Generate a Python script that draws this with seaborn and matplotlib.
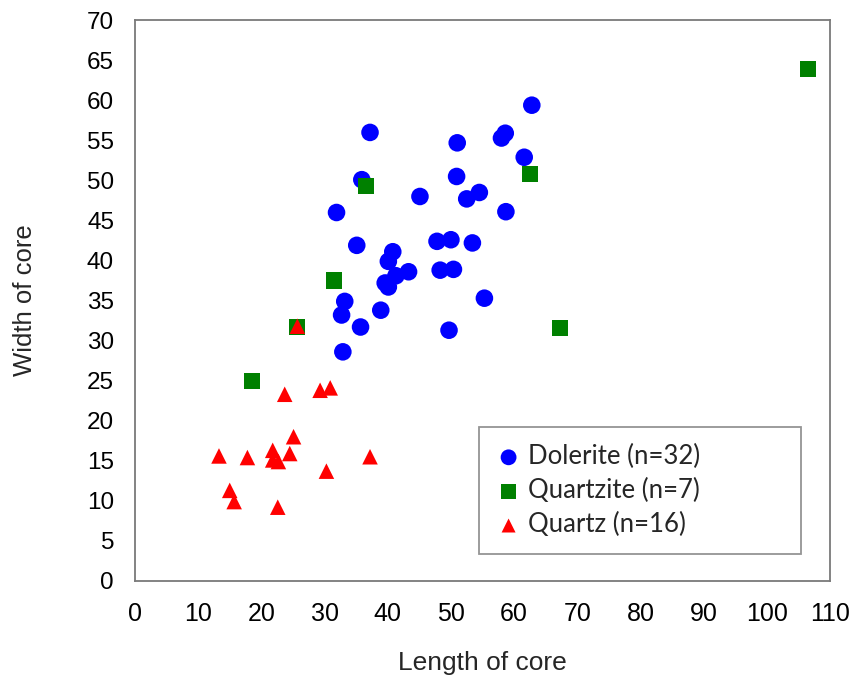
import matplotlib
matplotlib.use("Agg")
import matplotlib.pyplot as plt
import seaborn as sns
import pandas as pd

# ------------------- DATOS ------------------- #

dolerite_len = [62.8, 37.2, 51.0, 58.6, 58.0, 61.6, 35.9, 50.9, 45.1, 54.5, 52.5,
                31.9, 58.7, 35.1, 47.8, 50.0, 53.4, 40.8, 40.1, 48.3, 50.4, 43.3,
                41.3, 39.6, 40.1, 55.3, 33.2, 32.7, 38.9, 35.7, 49.7, 32.9]
dolerite_wid = [59.4, 56.0, 54.7, 55.9, 55.3, 52.9, 50.1, 50.5, 48.0, 48.5, 47.7,
                46.0, 46.1, 41.9, 42.4, 42.6, 42.2, 41.1, 39.9, 38.8, 38.9, 38.6,
                38.1, 37.2, 36.7, 35.3, 34.9, 33.2, 33.8, 31.7, 31.3, 28.6]

quartzite_len = [36.6, 62.5, 31.5, 25.7, 67.3, 106.5, 18.5]
quartzite_wid = [49.3, 50.8, 37.5, 31.7, 31.6, 63.9, 25.0]

quartz_len = [25.7, 23.7, 29.3, 30.9, 25.1, 13.3, 17.8, 21.8, 21.8, 22.7, 24.5,
              37.2, 30.3, 15.0, 15.7, 22.6]
quartz_wid = [31.8, 23.3, 23.8, 24.1, 18.0, 15.6, 15.4, 16.3, 15.1, 14.9, 15.9,
              15.5, 13.7, 11.3, 9.9, 9.2]

groups = ["Dolerite (n=32)", "Quartzite (n=7)", "Quartz (n=16)"]

df = pd.concat([
    pd.DataFrame({"Length": dolerite_len, "Width": dolerite_wid, "Type": groups[0]}),
    pd.DataFrame({"Length": quartzite_len, "Width": quartzite_wid, "Type": groups[1]}),
    pd.DataFrame({"Length": quartz_len, "Width": quartz_wid, "Type": groups[2]}),
])

# ------------------- ESTILO ------------------- #

sns.set_style("white")
plt.rcParams["font.family"] = ["Liberation Sans", "DejaVu Sans"]

estilos = {
    groups[0]: dict(color="#0000FF", marker="o", s=160),
    groups[1]: dict(color="#008000", marker="s", s=135),
    groups[2]: dict(color="#FF0000", marker="^", s=125),
}

# ------------------- GRÁFICA ------------------- #

fig = plt.figure(figsize=(8.54, 6.77), dpi=100)
ax = fig.add_axes([0.158, 0.142, 0.814, 0.828])

for g in groups:
    sub = df[df["Type"] == g]
    sns.scatterplot(data=sub, x="Length", y="Width", ax=ax, label=g,
                    linewidth=0, edgecolor="none", **estilos[g])

ax.set_xlim(0, 110)
ax.set_ylim(0, 70)
ax.set_xticks(range(0, 111, 10))
ax.set_yticks(range(0, 71, 5))

for sp in ax.spines.values():
    sp.set_color("#7a7a7a")
    sp.set_linewidth(1.3)

ax.tick_params(axis="both", direction="out", length=9, width=1.1,
               color="#7a7a7a", labelcolor="black")
ax.tick_params(axis="y", labelsize=17.5, pad=6)
ax.tick_params(axis="x", labelsize=18, pad=6)

ax.set_xlabel("Length of core", fontsize=19, labelpad=18)
ax.set_ylabel("Width of core", fontsize=18.5, labelpad=36)

leg = ax.legend(loc="lower left", bbox_to_anchor=(0.495, 0.048, 0.463, 0.232),
                mode="expand", borderaxespad=0, frameon=True, fancybox=False,
                prop={"family": "Lato", "size": 18.5},
                handletextpad=0.25, labelspacing=0.35, borderpad=0.65,
                handlelength=1.0, markerscale=0.9)
leg.get_frame().set_edgecolor("#7a7a7a")
leg.get_frame().set_linewidth(1.3)

plt.savefig("out.png", dpi=100)
plt.close()
